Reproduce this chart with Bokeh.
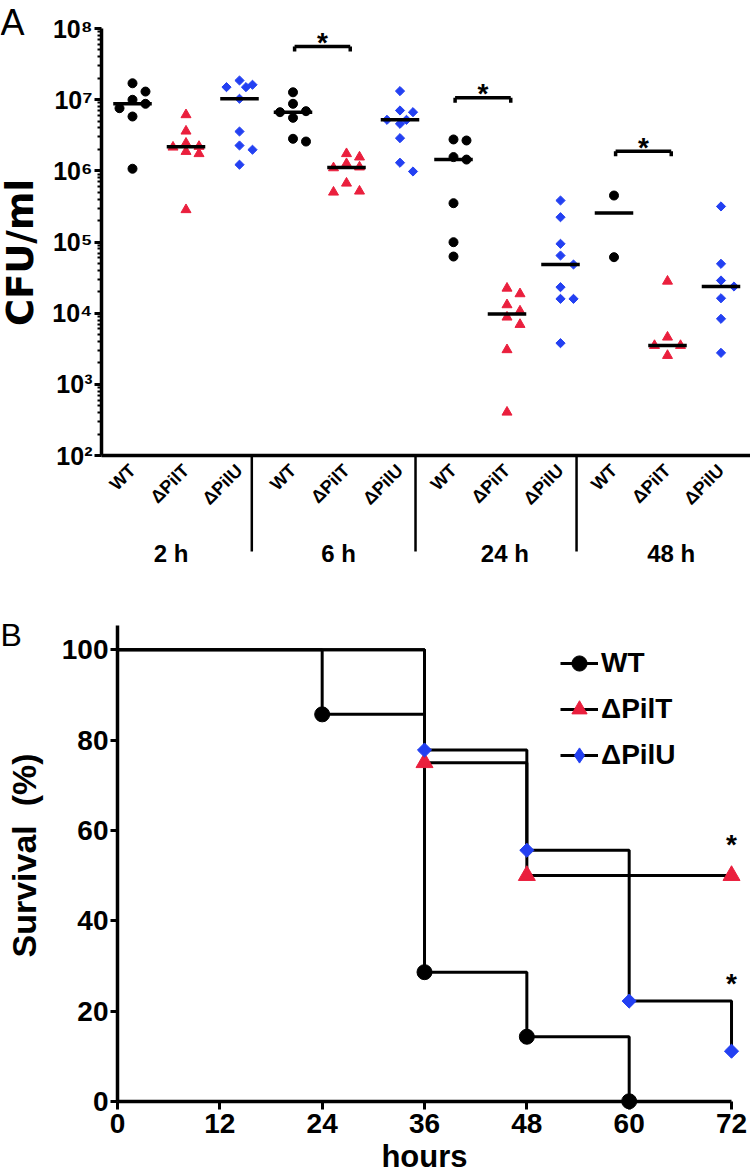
import json
from math import pi
import numpy as np
from bokeh.plotting import figure
from bokeh.layouts import column
from bokeh.models import (Range1d, FixedTicker, CustomJSTickFormatter, Label,
                          Legend, LegendItem)
from bokeh.core.properties import value
from bokeh.embed import file_html
from bokeh.resources import INLINE

# ---------------- data : panel A (CFU/ml) ----------------
time_points = ["2 h", "6 h", "24 h", "48 h"]
strains = ["WT", "ΔPilT", "ΔPilU"]

wt_2h = [1.70e7, 1.30e7, 9.96e6, 8.75e6, 7.59e6, 5.80e6, 1.07e6]
pilT_2h = [6.13e6, 3.61e6, 2.44e6, 2.20e6, 2.15e6, 1.87e6, 1.74e6, 2.84e5]
pilU_2h = [1.86e7, 1.62e7, 1.50e7, 1.50e7, 1.03e7, 3.57e6, 2.27e6, 1.98e6, 1.22e6]

wt_6h = [1.27e7, 8.75e6, 6.89e6, 6.67e6, 5.56e6, 2.82e6, 2.58e6]
pilT_6h = [1.74e6, 1.56e6, 1.26e6, 1.13e6, 1.10e6, 6.70e5, 5.18e5, 5.01e5]
pilU_6h = [1.32e7, 7.05e6, 6.67e6, 5.21e6, 5.21e6, 4.58e6, 2.88e6, 1.30e6, 9.79e5]

wt_24h = [2.76e6, 2.67e6, 1.56e6, 1.44e6, 3.51e5, 9.94e4, 6.25e4]
pilT_24h = [2.24e4, 1.87e4, 1.31e4, 1.07e4, 8.79e3, 6.93e3, 3.06e3, 406]
pilU_24h = [3.83e5, 2.23e5, 9.44e4, 6.46e4, 4.83e4, 2.32e4, 1.59e4, 1.59e4, 3.79e3]

wt_48h = [4.50e5, 6.12e4]
pilT_48h = [2.81e4, 4.60e3, 3.51e3, 3.51e3, 2.54e3]
pilU_48h = [3.16e5, 4.94e4, 2.88e4, 2.37e4, 1.62e4, 8.34e3, 2.77e3]

groups = [wt_2h, pilT_2h, pilU_2h, wt_6h, pilT_6h, pilU_6h,
          wt_24h, pilT_24h, pilU_24h, wt_48h, pilT_48h, pilU_48h]
y_ticks_A = [1e2, 1e3, 1e4, 1e5, 1e6, 1e7, 1e8]
signif_time_index = [1, 2, 3]          # WT vs ΔPilT significant at 6, 24, 48 h

# ---------------- data : panel B (survival) ----------------
hours_WT = [0, 24, 36, 48, 60]
surv_WT = [100, 85.7, 28.6, 14.3, 0]
hours_pilT = [0, 36, 48, 72]
surv_pilT = [100, 75, 50, 50]
hours_pilU = [0, 36, 48, 60, 72]
surv_pilU = [100, 77.8, 55.6, 22.2, 11.1]
x_ticks_B = [0, 12, 24, 36, 48, 60, 72]
y_ticks_B = [0, 20, 40, 60, 80, 100]

# ---------------- style ----------------
BLACK = "#000000"
RED = "#EA1F3D"
BLUE = "#2340F2"
FONT = "Liberation Sans"
colors = [BLACK, RED, BLUE]
markers = ["circle", "triangle", "square"]

# ---------------- panel A layout (frame fills the figure) ----------------
A_W, A_H = 750, 590
AXIS_X = 101.0          # px of the y axis
CAT0 = 132.0            # px of first category
PX_CAT = 53.5
Y8 = 28.0               # px of 1e8
PX_DEC = 71.17
ax_start = -CAT0 / PX_CAT
ax_end = (A_W - CAT0) / PX_CAT
ax_axis = (AXIS_X - CAT0) / PX_CAT
ytop_log = 8 + Y8 / PX_DEC
ybot_log = 8 - (A_H - Y8) / PX_DEC


def a_log(px_y):
    return 8 - (px_y - Y8) / PX_DEC


pA = figure(width=A_W, height=A_H, output_backend="svg", toolbar_location=None,
            x_range=Range1d(ax_start, ax_end),
            y_range=Range1d(10 ** ybot_log, 10 ** ytop_log),
            y_axis_type="log",
            min_border_left=0, min_border_right=0,
            min_border_top=0, min_border_bottom=0)
pA.outline_line_color = None
pA.xgrid.visible = False
pA.ygrid.visible = False

ya = pA.yaxis[0]
ya.fixed_location = ax_axis
ya.bounds = (1e2, 1e8)
ya.ticker = FixedTicker(ticks=y_ticks_A,
                        minor_ticks=[k * 10 ** e for e in range(2, 8) for k in range(2, 10)])
sup = {0: "⁰", 1: "¹", 2: "²", 3: "³", 4: "⁴", 5: "⁵", 6: "⁶", 7: "⁷", 8: "⁸", 9: "⁹"}
ya.formatter = CustomJSTickFormatter(
    code="const s = %s; const e = Math.round(Math.log10(tick)); return '10' + s[e];"
    % json.dumps({str(k): v for k, v in sup.items()}))
ya.axis_line_width = 3.5
ya.major_tick_line_width = 3
ya.major_tick_out = 7
ya.major_tick_in = 0
ya.minor_tick_line_width = 2
ya.minor_tick_out = 4
ya.minor_tick_in = 0
ya.major_label_standoff = 2
ya.major_label_text_font = FONT
ya.major_label_text_font_style = "bold"
ya.major_label_text_font_size = "25px"
ya.major_label_text_color = BLACK

cat_labels = [s for t in time_points for s in strains]
xa = pA.xaxis[0]
xa.fixed_location = 1e2
xa.bounds = (ax_axis, ax_end)
xa.ticker = FixedTicker(ticks=list(range(len(cat_labels))))
xa.formatter = CustomJSTickFormatter(
    code="const labs = %s; return labs[Math.round(tick)];" % json.dumps(cat_labels))
xa.major_label_orientation = pi / 4
xa.major_tick_line_color = None
xa.minor_tick_line_color = None
xa.axis_line_width = 3.5
xa.major_label_standoff = 6
xa.major_label_text_font = FONT
xa.major_label_text_font_style = "bold"
xa.major_label_text_font_size = "18px"
xa.major_label_text_color = BLACK


def swarm(vals, center, step_px=13.0, min_d=9.5):
    """Simple beeswarm: spread points that would overlap sideways (max one step)."""
    ys = np.log10(np.asarray(vals, dtype=float)) * PX_DEC
    order = np.argsort(-ys, kind="stable")
    placed = []
    offs = np.zeros(len(vals))
    for i in order:
        best, best_d = 0.0, -1.0
        for c in [0, 1, -1, 0.5, -0.5]:
            dx = c * step_px
            d = min([np.hypot(dx - px, ys[i] - py) for px, py in placed] or [1e9])
            if d >= min_d:
                best = dx
                break
            if d > best_d:
                best, best_d = dx, d
        placed.append((best, ys[i]))
        offs[i] = best / PX_CAT
    return list(center + offs)


msize = {"circle": 9, "triangle": 10, "square": 6.5}
for ci, vals in enumerate(groups):
    k = ci % 3
    xs = swarm(vals, ci)
    pA.scatter(xs, vals, marker=markers[k], size=msize[markers[k]],
               angle=(pi / 4 if markers[k] == "square" else 0),
               fill_color=colors[k], line_color=colors[k])

# medians
med = [float(np.median(v)) for v in groups]
pA.segment(x0=[i - 0.36 for i in range(len(groups))], x1=[i + 0.36 for i in range(len(groups))],
           y0=med, y1=med, line_color=BLACK, line_width=3.5)

# significance brackets (WT vs ΔPilT)
bracket_log = [a_log(46), a_log(97.3), a_log(150.7)]
tick_len = 5.0 / PX_DEC
bx0 = [3 * g + 0.03 for g in signif_time_index]
bx1 = [3 * g + 1.07 for g in signif_time_index]
by = [10 ** b for b in bracket_log]
byl = [10 ** (b - tick_len) for b in bracket_log]
pA.segment(x0=bx0, x1=bx1, y0=by, y1=by, line_color=BLACK, line_width=3.5)
pA.segment(x0=bx0 + bx1, x1=bx0 + bx1, y0=by + by, y1=byl + byl,
           line_color=BLACK, line_width=3.5)
pA.text(x=[(a + b) / 2 for a, b in zip(bx0, bx1)],
        y=[10 ** (b + 4.0 / PX_DEC) for b in bracket_log],
        text=["*"] * len(bracket_log), text_font=value(FONT), text_font_style="bold",
        text_font_size="28px", text_align="center", text_baseline="alphabetic",
        text_color=BLACK)

# group separators and time labels below axis
sep_x = [2.23, 5.29, 8.30]
sep_bottom = 10 ** a_log(551)
pA.segment(x0=sep_x, x1=sep_x, y0=[1e2] * 3, y1=[sep_bottom] * 3,
           line_color=BLACK, line_width=2.5)
group_label_x = [0.72, 3.85, 6.96, 10.07]
pA.text(x=group_label_x, y=[10 ** a_log(553)] * 4, text=time_points,
        text_font=value(FONT), text_font_style="bold", text_font_size="24px",
        text_align="center", text_baseline="middle", text_color=BLACK)

pA.add_layout(Label(x=(20 - CAT0) / PX_CAT, y=10 ** a_log(252), text="CFU/ml", angle=pi / 2,
                    text_font="DejaVu Sans", text_font_style="bold", text_font_size="37px",
                    text_align="center", text_baseline="middle", text_color=BLACK))
pA.add_layout(Label(x=ax_start, y=10 ** a_log(1), text="A",
                    text_font=FONT, text_font_size="36px",
                    text_align="left", text_baseline="top", text_color=BLACK))

# ---------------- panel B layout (frame fills the figure) ----------------
B_W, B_H = 750, 583
B_AXIS_X = 117.0
PX_H = 8.528
PX_S = 4.515
Y0_FIG = 510.8


def b_val(px_y):
    return (Y0_FIG - px_y) / PX_S


pB = figure(width=B_W, height=B_H, output_backend="svg", toolbar_location=None,
            x_range=Range1d(-B_AXIS_X / PX_H, (B_W - B_AXIS_X) / PX_H),
            y_range=Range1d(b_val(B_H), b_val(0)),
            min_border_left=0, min_border_right=0,
            min_border_top=0, min_border_bottom=0)
pB.outline_line_color = None
pB.xgrid.visible = False
pB.ygrid.visible = False

yb = pB.yaxis[0]
yb.fixed_location = 0
yb.bounds = (0, 105.4)
yb.ticker = FixedTicker(ticks=y_ticks_B)
yb.axis_line_width = 3.5
yb.major_tick_line_width = 3
yb.major_tick_out = 7
yb.major_tick_in = 0
yb.minor_tick_line_color = None
yb.major_label_standoff = 2
yb.major_label_text_font = FONT
yb.major_label_text_font_style = "bold"
yb.major_label_text_font_size = "28px"
yb.major_label_text_color = BLACK

xb = pB.xaxis[0]
xb.fixed_location = 0
xb.bounds = (0, 72)
xb.ticker = FixedTicker(ticks=x_ticks_B)
xb.axis_line_width = 3.5
xb.major_tick_line_width = 3
xb.major_tick_out = 8
xb.major_tick_in = 0
xb.minor_tick_line_color = None
xb.major_label_standoff = 5
xb.major_label_text_font = FONT
xb.major_label_text_font_style = "bold"
xb.major_label_text_font_size = "28px"
xb.major_label_text_color = BLACK
xb.axis_label = "hours"
xb.axis_label_standoff = 2
xb.axis_label_text_font = FONT
xb.axis_label_text_font_style = "bold"
xb.axis_label_text_font_size = "31px"
xb.axis_label_text_color = BLACK

series = [("WT", hours_WT, surv_WT, "circle", BLACK, 15, "circle"),
          ("ΔPilT", hours_pilT, surv_pilT, "triangle", RED, 17, "triangle"),
          ("ΔPilU", hours_pilU, surv_pilU, "square", BLUE, 10, "diamond")]
lines = []
for name, h, s, m, c, sz, lm in series:
    lines.append(pB.step(h, s, mode="after", line_color=BLACK, line_width=3))
items = []
for (name, h, s, m, c, sz, lm), ln in zip(series, lines):
    pB.scatter(h[1:], s[1:], marker=m, size=sz, angle=(pi / 4 if m == "square" else 0),
               fill_color=c, line_color=c)
    # legend key marker (a single NaN point: never drawn in the plot area)
    key = pB.scatter(x=[float("nan")], y=[float("nan")], marker=lm, size=sz,
                     fill_color=c, line_color=c)
    items.append(LegendItem(label=name, renderers=[ln, key]))

pB.text(x=[72, 72], y=[b_val(838 - 590) - 6 / PX_S, b_val(977 - 590) - 6 / PX_S],
        text=["*", "*"], text_font=value(FONT),
        text_font_style="bold", text_font_size="28px", text_align="center",
        text_baseline="alphabetic", text_color=BLACK)

leg = Legend(items=items, location=(560, 399), orientation="vertical")
leg.border_line_color = None
leg.background_fill_alpha = 0
leg.padding = 0
leg.margin = 0
leg.spacing = 8
leg.glyph_width = 38
leg.glyph_height = 38
leg.label_height = 38
leg.label_standoff = 3
leg.label_text_font = FONT
leg.label_text_font_style = "bold"
leg.label_text_font_size = "28px"
leg.label_text_color = BLACK
pB.add_layout(leg)

pB.add_layout(Label(x=(23 - B_AXIS_X) / PX_H, y=b_val(855 - 590),
                    text="Survival\u00a0\u00a0(%)",
                    angle=pi / 2, text_font=FONT, text_font_style="bold",
                    text_font_size="34px", text_align="center", text_baseline="middle",
                    text_color=BLACK))
pB.add_layout(Label(x=-B_AXIS_X / PX_H, y=b_val(634 - 590), text="B",
                    text_font=FONT, text_font_size="32px",
                    text_align="left", text_baseline="middle", text_color=BLACK))

layout = column(pA, pB, spacing=0)
open("out.html", "w").write(file_html(layout, INLINE))
